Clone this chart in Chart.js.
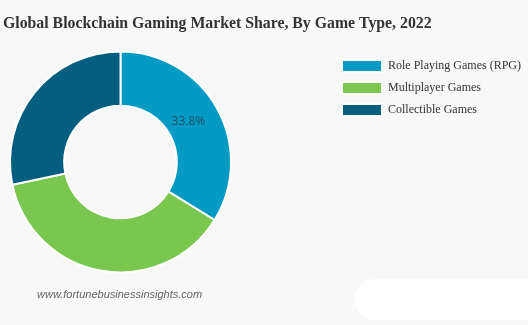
<!DOCTYPE html>
<html>
<head>
<meta charset="utf-8">
<script src="https://cdn.jsdelivr.net/npm/chart.js@4/dist/chart.umd.min.js"></script>
<style>
  html, body { margin: 0; padding: 0; background: #f8f8f8; }
  #wrap { position: relative; width: 528px; height: 325px; overflow: hidden; }
  #source {
    position: absolute; left: 37px; top: 288px;
    font: italic 11px "Liberation Sans", Arial, sans-serif; color: #666;
  }
  #blob {
    position: absolute; left: 355px; top: 279px; width: 190px; height: 41px;
    background: #fff; border-radius: 20px;
  }
</style>
</head>
<body>
<div id="wrap">
  <canvas id="donutChart" width="528" height="325"></canvas>
  <div id="source">www.fortunebusinessinsights.com</div>
  <div id="blob"></div>
</div>
<script>
  // Global blockchain gaming market share by game type, 2022
const labels = [
    'Role Playing Games (RPG)',
    'Multiplayer Games',
    'Collectible Games',
];
const shares = [33.8, 37.9, 28.3];
const colors = ['#039ac3', '#7ac74f', '#045e80'];

  // keep the doughnut on the left and the legend where the original has it
const placeParts = {
    id: 'placeParts',
    afterLayout(chart) {
        const a = chart.chartArea;
        a.left = 9;
        a.right = 232;
        a.width = a.right - a.left;
        chart.legend.left = 332;
    }
};

  // only the first slice carries a value label
const firstLabel = {
    id: 'firstLabel',
    afterDatasetsDraw(chart) {
        const arc = chart.getDatasetMeta(0).data[0];
        const p = arc.tooltipPosition();
        const ctx = chart.ctx;
        ctx.save();
        ctx.font = '12px "Open Sans", "Liberation Sans", sans-serif';
        ctx.fillStyle = '#1d5068';
        ctx.textAlign = 'center';
        ctx.textBaseline = 'middle';
        ctx.fillText(shares[0].toFixed(1) + '%', p.x - 5, p.y);
        ctx.restore();
    }
};

const data = {
    labels: labels,
    datasets: [{
        data: shares,
        backgroundColor: colors,
        borderColor: '#ffffff',
        borderWidth: 2,
    }]
};

const config = {
    type: 'doughnut',
    data: data,
    options: {
        responsive: false,
        animation: false,
        cutout: '51%',
        layout: { padding: { left: 3, bottom: 51 } },
        plugins: {
            title: {
                display: true,
                text: 'Global Blockchain Gaming Market Share, By Game Type, 2022',
                align: 'start',
                color: '#333',
                font: { family: '"Times New Roman", "Liberation Serif", serif', size: 15.8, weight: 'bold' },
                padding: { top: 14, bottom: 17 },
            },
            legend: {
                position: 'right',
                align: 'start',
                fullSize: false,
                labels: {
                    boxWidth: 40,
                    boxHeight: 12,
                    padding: 10,
                    color: '#333',
                    font: { family: '"Times New Roman", "Liberation Serif", serif', size: 12 },
                }
            },
            tooltip: { enabled: false }
        }
    },
    plugins: [placeParts, firstLabel]
};

const myDonutChart = new Chart(
    document.getElementById('donutChart'),
    config
);
</script>
</body>
</html>
